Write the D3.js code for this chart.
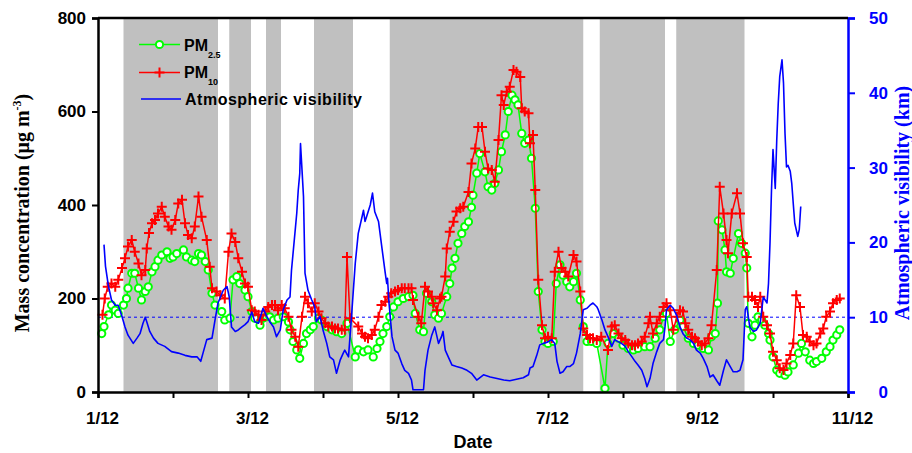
<!DOCTYPE html>
<html><head><meta charset="utf-8">
<script src="https://cdn.jsdelivr.net/npm/d3@7"></script>
<style>body{margin:0;background:#fff}svg{display:block}</style>
</head><body>
<svg id="c" width="912" height="453"></svg>
<script>
// ---- DATA (day of December, fractional) ----
const bandStart = [1.34, 2.75, 3.24, 3.88, 4.89, 7.69, 8.71];
const bandEnd   = [2.60, 3.04, 3.44, 4.40, 7.47, 8.56, 9.62];

const xTickValues = [1,2,3,4,5,6,7,8,9,10,11];
const xTickLabels = ["1/12","","3/12","","5/12","","7/12","","9/12","","11/12"];
const yLeftTicks = [0,200,400,600,800];
const yRightTicks = [0,10,20,30,40,50];
const visRef = 10;

const pm10Day = [1.06,1.09,1.13,1.18,1.23,1.27,1.32,1.36,1.40,1.45,1.49,1.54,1.58,1.63,1.65,1.68,1.72,1.76,1.80,1.85,1.89,1.94,1.98,2.03,2.07,2.12,2.16,2.20,2.25,2.29,2.34,2.38,2.45,2.49,2.52,2.58,2.63,
2.69,2.74,2.78,2.83,2.87,2.92,2.96,3.00,3.05,3.09,3.14,3.18,3.23,3.27,3.32,3.36,3.40,3.45,3.49,3.54,3.58,3.63,3.67,3.72,3.76,3.80,3.85,3.89,3.94,3.98,4.03,4.07,4.12,4.16,4.20,4.25,4.29,4.32,4.36,
4.47,4.52,4.56,4.60,4.65,4.69,4.74,4.78,4.83,4.87,4.91,4.96,5.00,5.05,5.09,5.14,5.18,5.20,5.27,5.31,5.36,5.40,5.45,5.47,5.52,5.56,5.58,5.63,5.65,5.69,5.74,5.78,5.83,5.87,5.94,5.98,
6.03,6.07,6.12,6.16,6.20,6.25,6.29,6.34,6.38,6.41,6.45,6.49,6.54,6.58,6.63,6.65,6.69,6.74,6.76,6.80,6.83,6.87,6.92,6.96,7.00,7.05,7.09,7.14,7.18,7.23,7.27,7.34,7.38,7.43,7.47,7.52,7.56,7.60,7.65,
7.71,7.80,7.85,7.89,7.94,7.98,8.03,8.07,8.12,8.16,8.20,8.25,8.29,8.34,8.36,8.40,8.45,8.49,8.54,8.58,8.63,8.67,8.72,8.76,8.80,8.83,8.87,8.92,8.96,9.00,9.05,9.09,9.14,9.18,9.25,9.29,
9.34,9.38,9.40,9.45,9.52,9.56,9.60,9.65,9.67,9.72,9.76,9.80,9.83,9.87,9.92,9.96,10.00,10.05,10.09,10.14,10.18,10.23,10.27,10.31,10.36,10.40,10.45,10.49,10.54,10.58,10.63,10.67,10.71,10.76,10.80,10.85,10.89];
const pm10 = [165,200,225,232,225,240,265,286,311,325,300,275,250,261,307,340,361,368,382,396,375,354,347,368,403,411,361,336,329,354,418,375,325,268,222,215,207,
200,300,339,321,286,257,232,225,175,172,165,154,172,182,186,186,175,186,179,161,133,118,97,161,204,190,172,190,172,158,147,140,140,136,136,133,133,289,158,
140,125,118,115,122,133,161,186,193,204,211,215,218,222,222,222,222,197,161,147,225,215,204,190,175,200,204,247,307,343,364,386,393,396,428,489,
521,567,567,514,478,475,450,539,635,614,642,653,689,685,674,607,600,596,532,550,432,240,143,115,118,115,257,300,265,257,247,293,279,215,136,122,115,115,111,
118,90,140,143,125,115,111,104,100,100,104,108,118,147,161,125,147,161,182,190,175,133,161,175,172,147,133,118,115,108,100,104,115,143,261,439,
382,325,297,382,425,382,318,289,204,204,197,182,204,161,143,125,86,68,51,47,61,79,104,207,182,122,118,108,100,104,125,136,161,172,190,197,200];

const pm25Day = [1.05,1.08,1.14,1.18,1.23,1.27,1.34,1.38,1.40,1.45,1.49,1.54,1.58,1.63,1.67,1.72,1.76,1.80,1.85,1.92,1.96,2.00,2.05,2.14,2.18,2.25,2.29,2.34,2.38,2.43,2.47,2.52,2.56,
2.65,2.69,2.76,2.80,2.85,2.89,2.96,3.00,3.05,3.09,3.16,3.20,3.25,3.29,3.34,3.40,3.47,3.54,3.56,3.60,3.65,3.69,3.74,3.78,3.83,3.87,3.94,3.98,4.05,4.12,4.18,4.25,4.32,
4.43,4.47,4.54,4.60,4.67,4.72,4.76,4.80,4.85,4.89,4.94,5.00,5.07,5.14,5.20,5.23,5.29,5.34,5.38,5.45,5.49,5.54,5.58,5.65,5.69,5.72,5.76,5.80,5.85,5.89,5.94,5.98,
6.00,6.05,6.09,6.16,6.20,6.25,6.29,6.34,6.38,6.43,6.47,6.52,6.56,6.60,6.65,6.69,6.74,6.78,6.83,6.87,6.92,6.96,7.00,7.07,7.11,7.16,7.20,7.25,7.29,7.34,7.38,7.43,7.47,7.52,7.58,7.65,
7.76,7.80,7.87,7.94,8.00,8.07,8.14,8.20,8.29,8.36,8.43,8.49,8.54,8.58,8.63,8.69,8.76,8.80,8.87,8.94,9.00,9.07,9.14,9.18,9.23,9.26,
9.27,9.32,9.36,9.38,9.43,9.47,9.54,9.58,9.63,9.65,9.67,9.72,9.76,9.80,9.85,9.89,9.94,9.96,10.00,10.05,10.09,10.16,10.20,10.27,10.34,10.38,10.43,10.49,10.54,10.58,10.65,10.71,10.76,10.80,10.85,10.89];
const pm25 = [125,140,165,186,175,168,186,200,222,254,254,222,197,215,225,257,268,282,293,300,286,289,296,304,289,282,279,296,293,279,261,211,186,
172,154,158,240,247,232,218,204,172,158,143,158,161,161,154,158,161,150,133,108,90,72,104,125,133,140,158,154,140,133,129,125,147,
75,90,86,90,75,93,108,125,140,161,182,193,200,204,207,168,133,129,211,193,165,158,168,204,232,265,286,318,339,354,364,395,
421,468,510,471,439,432,446,475,514,550,600,635,625,614,553,532,539,500,393,215,133,108,104,108,232,272,250,236,225,236,254,197,140,108,108,104,
8,104,125,115,100,93,90,93,97,97,115,133,161,168,108,133,154,140,115,104,100,93,90,118,125,190,
366,347,304,257,254,286,339,318,297,265,147,118,143,161,154,143,125,111,75,47,40,36,43,58,83,104,86,68,61,65,72,86,97,111,122,133];

const visDay = [1.08,1.10,1.14,1.18,1.23,1.27,1.32,1.36,1.40,1.47,1.52,1.56,1.60,1.63,1.65,1.69,1.74,1.80,1.89,1.98,2.07,2.16,2.25,2.32,2.37,2.40,2.45,2.52,2.56,2.60,2.67,2.72,2.75,
2.78,2.83,2.87,2.92,2.96,3.00,3.05,3.09,3.14,3.18,3.20,3.25,3.29,3.34,3.38,3.43,3.47,3.52,3.56,3.58,3.63,3.65,3.67,3.69,3.70,3.72,3.74,3.76,3.80,3.85,3.89,3.91,3.96,
4.00,4.05,4.09,4.14,4.18,4.23,4.27,4.29,4.34,4.38,4.43,4.47,4.52,4.54,4.56,4.58,4.63,4.66,4.69,4.74,4.78,4.83,4.85,4.86,4.88,4.92,4.96,5.00,5.05,5.09,5.14,5.18,5.20,5.27,5.34,
5.36,5.40,5.45,5.49,5.54,5.58,5.60,5.63,5.67,5.72,5.78,5.85,5.92,5.98,6.05,6.14,6.23,6.32,6.41,6.49,6.58,6.67,6.74,6.76,6.80,6.85,6.89,6.94,7.00,7.05,7.09,7.12,7.16,7.20,7.25,7.29,7.34,7.38,
7.43,7.47,7.52,7.56,7.60,7.65,7.67,7.72,7.76,7.80,7.85,7.89,7.94,7.98,8.03,8.07,8.12,8.16,8.20,8.25,8.29,8.32,8.36,8.40,8.45,8.49,8.54,8.56,8.58,8.63,8.67,8.72,8.76,8.80,8.85,8.89,8.94,8.98,
9.03,9.07,9.12,9.16,9.20,9.25,9.29,9.34,9.38,9.43,9.47,9.52,9.56,9.60,9.63,9.65,9.67,9.69,9.74,9.78,9.83,9.87,9.92,9.94,9.96,9.98,10.00,10.03,10.05,10.07,10.09,10.12,10.14,10.16,10.18,10.20,10.23,10.25,10.27,10.29,10.33,10.35,10.37];
const vis = [19.7,16.8,14.1,12.3,11.6,11.6,10.1,8.7,7.6,6.5,7.2,7.8,9.2,10.0,9.4,8.1,7.2,6.5,6.1,5.4,5.2,4.9,4.7,4.7,4.1,5.2,7.0,7.2,9.6,11.9,13.6,14.1,12.7,
8.7,8.1,8.3,8.7,9.0,9.4,10.7,9.4,9.2,10.5,11.2,10.1,9.4,8.7,7.4,8.3,11.0,12.3,12.7,16.3,21.7,23.9,27.0,29.2,33.2,29.7,26.1,15.9,13.6,12.3,11.4,9.4,10.1,
8.3,6.5,4.7,4.3,2.5,4.3,5.2,5.6,4.7,10.1,17.2,21.2,23.4,24.3,22.8,23.4,25.0,26.6,24.1,22.8,19.7,15.9,14.5,15.2,11.9,7.4,5.6,5.2,3.8,2.9,2.5,1.6,0.3,0.3,0.3,
2.9,5.6,7.6,8.7,6.5,7.4,8.1,5.6,4.7,3.6,3.4,3.2,2.9,2.5,1.6,2.3,2.0,1.8,1.6,1.5,1.7,1.9,2.3,3.2,3.4,4.9,6.3,6.5,6.7,7.0,6.5,4.1,2.5,2.7,3.4,3.4,3.8,5.2,
7.8,11.0,11.2,11.6,11.9,11.4,11.0,9.6,8.3,7.4,6.1,7.0,6.7,6.5,6.1,5.4,4.7,4.1,3.6,2.9,1.8,0.7,1.8,3.8,5.4,6.5,7.0,8.7,11.0,11.6,11.2,10.1,8.7,7.8,7.2,7.0,6.5,5.6,
5.2,4.5,3.4,2.0,2.3,1.5,0.9,2.9,4.3,3.4,2.7,2.7,2.9,4.3,11.0,11.4,10.1,8.7,8.1,8.3,9.2,12.7,11.9,14.5,19.9,27.0,32.4,27.2,33.7,38.6,42.2,44.4,41.3,34.6,30.1,30.3,29.5,27.9,25.2,22.6,20.8,21.7,24.8];

// ---- CHART ----
const svg = d3.select("#c");
const L = 98, R = 848, T = 18, B = 392;
const x = d3.scaleLinear().domain([1, 11]).range([L, R]);
const yL = d3.scaleLinear().domain([0, 800]).range([B, T]);
const yR = d3.scaleLinear().domain([0, 50]).range([B, T]);
const sans = "'Liberation Sans', Arial, sans-serif";
const serif = "'Liberation Serif', 'Times New Roman', serif";

// bands
svg.append("g").selectAll("rect").data(bandStart).join("rect")
  .attr("x", d => x(d)).attr("y", T)
  .attr("width", (d, i) => x(bandEnd[i]) - x(d)).attr("height", B - T)
  .attr("fill", "#c0c0c0");

// reference dashed line
svg.append("line").attr("x1", L).attr("x2", R).attr("y1", yR(visRef)).attr("y2", yR(visRef))
  .attr("stroke", "#0000ff").attr("stroke-width", 1).attr("stroke-dasharray", "3,3");

const pm25Pts = pm25Day.map((d, i) => [d, pm25[i]]);
const pm10Pts = pm10Day.map((d, i) => [d, pm10[i]]);
const visPts = visDay.map((d, i) => [d, vis[i]]);

const lineL = d3.line().x(d => x(d[0])).y(d => yL(d[1]));
const lineR = d3.line().x(d => x(d[0])).y(d => yR(d[1]));

// PM2.5
svg.append("path").datum(pm25Pts).attr("d", lineL).attr("fill", "none")
  .attr("stroke", "#00ff00").attr("stroke-width", 1.5);
svg.append("g").selectAll("circle").data(pm25Pts).join("circle")
  .attr("cx", d => x(d[0])).attr("cy", d => yL(d[1])).attr("r", 3.6)
  .attr("fill", "#fff").attr("stroke", "#00ff00").attr("stroke-width", 2);

// PM10
const plus = "M-5,0H5M0,-5V5";
svg.append("path").datum(pm10Pts).attr("d", lineL).attr("fill", "none")
  .attr("stroke", "#ff0000").attr("stroke-width", 1.5);
svg.append("g").selectAll("path").data(pm10Pts).join("path")
  .attr("d", plus).attr("transform", d => `translate(${x(d[0])},${yL(d[1])})`)
  .attr("stroke", "#ff0000").attr("stroke-width", 2).attr("fill", "none");

// visibility
svg.append("path").datum(visPts).attr("d", lineR).attr("fill", "none")
  .attr("stroke", "#0000ff").attr("stroke-width", 1.6).attr("stroke-linejoin", "round");

// axes
const gL = svg.append("g").attr("transform", `translate(${L},0)`)
  .call(d3.axisLeft(yL).tickValues(yLeftTicks).tickSize(6).tickPadding(6));
gL.select(".domain").attr("stroke-width", 2.5);
gL.selectAll(".tick line").attr("stroke-width", 2);
gL.selectAll("text").attr("font-family", sans).attr("font-weight", "bold").attr("font-size", 17).attr("fill", "#000");

const gB = svg.append("g").attr("transform", `translate(0,${B})`)
  .call(d3.axisBottom(x).tickValues(xTickValues).tickSize(6).tickFormat((d, i) => xTickLabels[i]));
gB.select(".domain").attr("stroke-width", 2.5);
gB.selectAll(".tick line").attr("stroke-width", 2);
gB.selectAll("text").attr("font-family", sans).attr("font-weight", "bold").attr("font-size", 17)
  .attr("fill", "#000").attr("y", 32).attr("dy", 0).attr("dx", 4);

const gR = svg.append("g").attr("transform", `translate(${R},0)`)
  .call(d3.axisRight(yR).tickValues(yRightTicks).tickSize(7));
gR.select(".domain").attr("stroke", "#0000ff").attr("stroke-width", 2.5);
gR.selectAll(".tick line").attr("stroke", "#0000ff").attr("stroke-width", 2);
gR.selectAll("text").attr("font-family", sans).attr("font-weight", "bold").attr("font-size", 17)
  .attr("fill", "#0000ff").attr("x", 40).attr("text-anchor", "end");

// top border
svg.append("line").attr("x1", L).attr("x2", R).attr("y1", T).attr("y2", T)
  .attr("stroke", "#000").attr("stroke-width", 2.5);

// axis titles
const tl = svg.append("text").attr("transform", "translate(29,213) rotate(-90)")
  .attr("text-anchor", "middle").attr("font-family", serif).attr("font-weight", "bold")
  .attr("font-size", 20).attr("fill", "#000");
tl.append("tspan").text("Mass concentration (μg m");
tl.append("tspan").attr("dy", -8).attr("font-size", 12).text("-3");
tl.append("tspan").attr("dy", 8).text(")");

svg.append("text").attr("transform", "translate(909,203) rotate(-90)")
  .attr("text-anchor", "middle").attr("font-family", serif).attr("font-weight", "bold")
  .attr("font-size", 20).attr("fill", "#0000ff").text("Atmospheric visibility (km)");

svg.append("text").attr("x", (L + R) / 2).attr("y", 448).attr("text-anchor", "middle")
  .attr("font-family", sans).attr("font-weight", "bold").attr("font-size", 18).text("Date");

// legend
const lg = svg.append("g").attr("font-family", sans).attr("font-weight", "bold").attr("font-size", 16);
lg.append("line").attr("x1", 139).attr("x2", 180).attr("y1", 44.5).attr("y2", 44.5).attr("stroke", "#00ff00").attr("stroke-width", 1.5);
lg.append("circle").attr("cx", 159.5).attr("cy", 44.5).attr("r", 3.6).attr("fill", "#fff").attr("stroke", "#00ff00").attr("stroke-width", 2);
const t1 = lg.append("text").attr("x", 184).attr("y", 51);
t1.append("tspan").text("PM");
t1.append("tspan").attr("dy", 7).attr("font-size", 9).text("2.5");

lg.append("line").attr("x1", 139).attr("x2", 180).attr("y1", 72.5).attr("y2", 72.5).attr("stroke", "#ff0000").attr("stroke-width", 1.5);
lg.append("path").attr("d", plus).attr("transform", "translate(159.5,72.5)").attr("stroke", "#ff0000").attr("stroke-width", 2);
const t2 = lg.append("text").attr("x", 184).attr("y", 78);
t2.append("tspan").text("PM");
t2.append("tspan").attr("dy", 7).attr("font-size", 9).text("10");

lg.append("line").attr("x1", 141).attr("x2", 181).attr("y1", 99).attr("y2", 99).attr("stroke", "#0000ff").attr("stroke-width", 1.5);
lg.append("text").attr("x", 185).attr("y", 104.5).attr("textLength", 177).attr("lengthAdjust", "spacing").text("Atmospheric visibility");
</script>
</body></html>
